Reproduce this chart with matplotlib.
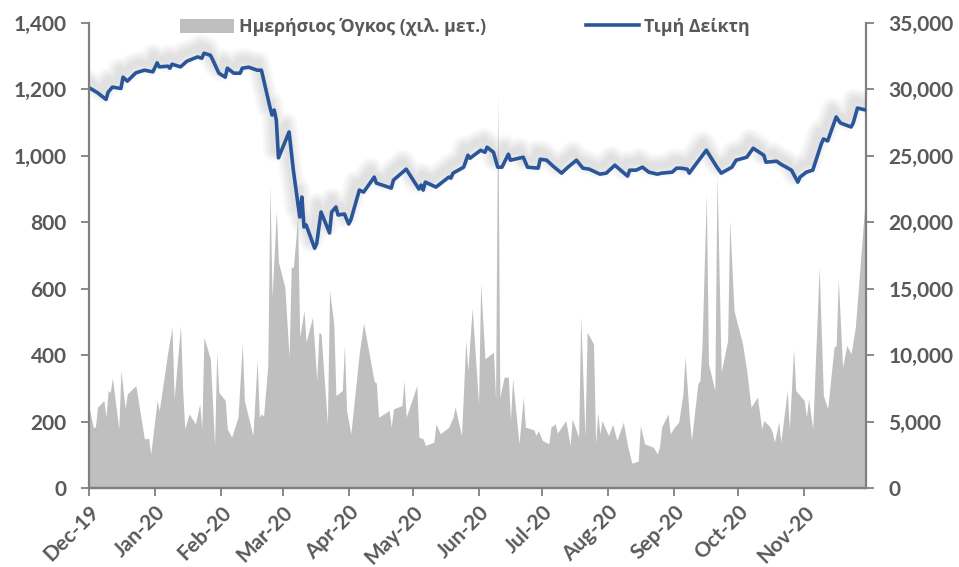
import pandas as pd
import matplotlib
matplotlib.use("Agg")
import matplotlib.pyplot as plt
import matplotlib.patheffects as pe
from matplotlib.ticker import FuncFormatter, MultipleLocator

# Τιμή Δείκτη (αριστερός άξονας)
idx_dates = [
    "2019-12-01", "2019-12-03", "2019-12-05", "2019-12-09", "2019-12-10", "2019-12-12",
    "2019-12-16", "2019-12-17", "2019-12-19", "2019-12-23", "2019-12-27", "2019-12-31",
    "2020-01-02", "2020-01-03", "2020-01-07", "2020-01-08", "2020-01-09", "2020-01-13",
    "2020-01-16", "2020-01-21", "2020-01-23", "2020-01-24", "2020-01-27", "2020-01-28",
    "2020-01-31", "2020-02-03", "2020-02-04", "2020-02-07", "2020-02-10", "2020-02-11",
    "2020-02-14", "2020-02-18", "2020-02-20", "2020-02-24", "2020-02-25", "2020-02-26",
    "2020-02-27", "2020-02-28", "2020-03-04", "2020-03-06", "2020-03-09", "2020-03-10",
    "2020-03-11", "2020-03-12", "2020-03-16", "2020-03-17", "2020-03-19", "2020-03-23",
    "2020-03-24", "2020-03-26", "2020-03-27", "2020-03-30", "2020-04-01", "2020-04-02",
    "2020-04-06", "2020-04-08", "2020-04-13", "2020-04-14", "2020-04-21", "2020-04-22",
    "2020-04-28", "2020-05-04", "2020-05-05", "2020-05-06", "2020-05-07", "2020-05-12",
    "2020-05-18", "2020-05-19", "2020-05-20", "2020-05-25", "2020-05-27", "2020-05-28",
    "2020-06-02", "2020-06-04", "2020-06-05", "2020-06-08", "2020-06-10", "2020-06-12",
    "2020-06-15", "2020-06-16", "2020-06-22", "2020-06-24", "2020-06-29", "2020-06-30",
    "2020-07-03", "2020-07-06", "2020-07-10", "2020-07-13", "2020-07-17", "2020-07-20",
    "2020-07-23", "2020-07-27", "2020-07-28", "2020-07-31", "2020-08-04", "2020-08-10",
    "2020-08-11", "2020-08-14", "2020-08-17", "2020-08-20", "2020-08-24", "2020-08-26",
    "2020-08-31", "2020-09-02", "2020-09-04", "2020-09-07", "2020-09-08", "2020-09-09",
    "2020-09-16", "2020-09-21", "2020-09-23", "2020-09-28", "2020-09-30", "2020-10-05",
    "2020-10-08", "2020-10-13", "2020-10-14", "2020-10-19", "2020-10-21", "2020-10-26",
    "2020-10-29", "2020-10-30", "2020-11-02", "2020-11-05", "2020-11-09", "2020-11-10",
    "2020-11-12", "2020-11-16", "2020-11-18", "2020-11-23", "2020-11-24", "2020-11-26",
    "2020-11-30",
]
idx_values = [
    1205, 1198, 1190, 1170, 1192, 1207,
    1203, 1237, 1225, 1250, 1258, 1253,
    1280, 1268, 1270, 1264, 1276, 1268,
    1285, 1298, 1294, 1309, 1303, 1291,
    1249, 1237, 1264, 1249, 1249, 1264,
    1267, 1258, 1258, 1147, 1123, 1138,
    1108, 994, 1072, 957, 816, 876,
    786, 792, 722, 737, 831, 768,
    831, 846, 822, 825, 795, 807,
    897, 891, 936, 918, 903, 927,
    960, 900, 912, 897, 921, 906,
    936, 933, 948, 966, 1002, 993,
    1017, 1011, 1026, 1011, 966, 966,
    1005, 987, 996, 966, 963, 990,
    987, 969, 948, 966, 987, 963,
    960, 948, 945, 948, 972, 939,
    957, 957, 966, 951, 945, 948,
    951, 963, 963, 960, 948, 957,
    1017, 966, 948, 966, 987, 996,
    1023, 1002, 981, 984, 975, 957,
    921, 936, 951, 957, 1036, 1051,
    1045, 1117, 1099, 1087, 1099, 1144,
    1138,
]

# Ημερήσιος Όγκος (δεξιός άξονας)
vol_dates = [
    "2019-12-01", "2019-12-03", "2019-12-04", "2019-12-05", "2019-12-08", "2019-12-09",
    "2019-12-10", "2019-12-11", "2019-12-12", "2019-12-15", "2019-12-16", "2019-12-18",
    "2019-12-19", "2019-12-23", "2019-12-27", "2019-12-29", "2019-12-30", "2020-01-02",
    "2020-01-03", "2020-01-07", "2020-01-09", "2020-01-10", "2020-01-13", "2020-01-14",
    "2020-01-15", "2020-01-17", "2020-01-20", "2020-01-22", "2020-01-23", "2020-01-24",
    "2020-01-27", "2020-01-29", "2020-01-30", "2020-01-31", "2020-02-03", "2020-02-04",
    "2020-02-06", "2020-02-09", "2020-02-11", "2020-02-12", "2020-02-16", "2020-02-18",
    "2020-02-19", "2020-02-20", "2020-02-21", "2020-02-23", "2020-02-24", "2020-02-25",
    "2020-02-27", "2020-02-28", "2020-03-02", "2020-03-04", "2020-03-05", "2020-03-06",
    "2020-03-08", "2020-03-09", "2020-03-11", "2020-03-12", "2020-03-15", "2020-03-17",
    "2020-03-18", "2020-03-19", "2020-03-22", "2020-03-23", "2020-03-25", "2020-03-26",
    "2020-03-29", "2020-03-30", "2020-03-31", "2020-04-02", "2020-04-06", "2020-04-08",
    "2020-04-13", "2020-04-14", "2020-04-15", "2020-04-20", "2020-04-21", "2020-04-22",
    "2020-04-26", "2020-04-27", "2020-04-28", "2020-05-03", "2020-05-04", "2020-05-06",
    "2020-05-07", "2020-05-11", "2020-05-12", "2020-05-14", "2020-05-18", "2020-05-20",
    "2020-05-21", "2020-05-24", "2020-05-26", "2020-05-27", "2020-05-29", "2020-06-01",
    "2020-06-02", "2020-06-04", "2020-06-08", "2020-06-09", "2020-06-10", "2020-06-11",
    "2020-06-13", "2020-06-15", "2020-06-16", "2020-06-17", "2020-06-20", "2020-06-22",
    "2020-06-23", "2020-06-27", "2020-06-28", "2020-06-29", "2020-07-01", "2020-07-04",
    "2020-07-05", "2020-07-07", "2020-07-08", "2020-07-12", "2020-07-14", "2020-07-15",
    "2020-07-18", "2020-07-19", "2020-07-21", "2020-07-22", "2020-07-25", "2020-07-26",
    "2020-07-27", "2020-07-28", "2020-07-29", "2020-08-01", "2020-08-03", "2020-08-05",
    "2020-08-08", "2020-08-10", "2020-08-12", "2020-08-15", "2020-08-16", "2020-08-18",
    "2020-08-20", "2020-08-22", "2020-08-24", "2020-08-25", "2020-08-26", "2020-08-29",
    "2020-08-30", "2020-09-01", "2020-09-03", "2020-09-05", "2020-09-06", "2020-09-08",
    "2020-09-09", "2020-09-12", "2020-09-13", "2020-09-14", "2020-09-16", "2020-09-17",
    "2020-09-20", "2020-09-21", "2020-09-23", "2020-09-26", "2020-09-27", "2020-09-29",
    "2020-10-03", "2020-10-05", "2020-10-07", "2020-10-10", "2020-10-12", "2020-10-13",
    "2020-10-16", "2020-10-17", "2020-10-18", "2020-10-20", "2020-10-21", "2020-10-24",
    "2020-10-25", "2020-10-27", "2020-10-28", "2020-11-01", "2020-11-02", "2020-11-03",
    "2020-11-05", "2020-11-08", "2020-11-10", "2020-11-12", "2020-11-15", "2020-11-16",
    "2020-11-17", "2020-11-19", "2020-11-21", "2020-11-23", "2020-11-25", "2020-11-29",
    "2020-11-30",
]
vol_values = [
    6100, 4580, 4580, 6080, 6600, 5330,
    7340, 7200, 8300, 4450, 8840, 5960,
    7090, 7710, 3700, 3750, 2570, 6590,
    5830, 10220, 12100, 6710, 12230, 7340,
    4450, 5580, 4830, 6340, 4450, 11350,
    9720, 3200, 10220, 7210, 6590, 4450,
    3820, 5330, 10850, 6590, 3950, 9600,
    5330, 5580, 5400, 9220, 22770, 14360,
    20880, 17000, 15110, 9850, 16620, 16620,
    20260, 11350, 13360, 10980, 12860, 8090,
    11730, 11600, 4830, 14870, 12360, 6960,
    7340, 10730, 5830, 4080, 10220, 12420,
    8000, 7900, 5330, 5830, 4580, 5960,
    6210, 8090, 5330, 7710, 3820, 3700,
    3200, 3450, 4830, 4080, 4580, 5330,
    6080, 3950, 11100, 8840, 13550, 6340,
    15370, 9720, 10220, 6710, 29600, 6840,
    8340, 8340, 5080, 8220, 3330, 6840,
    4580, 4380, 3950, 4330, 3580, 3330,
    4580, 4830, 4130, 5080, 3200, 5210,
    3820, 12980, 3880, 11730, 10850, 3330,
    5710, 4080, 5080, 3950, 4780, 3580,
    4950, 3200, 1870, 2020, 4700, 3330,
    3200, 3070, 2570, 3070, 4580, 5580,
    4080, 4580, 4950, 7090, 9900, 5330,
    3580, 7840, 8090, 10850, 22140, 9350,
    7340, 23650, 8720, 11100, 20130, 13360,
    10850, 8800, 6080, 6840, 4450, 5080,
    4580, 4200, 3450, 4950, 3450, 7340,
    4450, 10480, 7340, 6590, 5330, 6710,
    4450, 16620, 6960, 5960, 10600, 10730,
    15750, 9090, 10730, 10100, 12110, 20380,
    22400,
]

month_starts = pd.date_range("2019-12-01", "2020-11-01", freq="MS")

gray_txt = "#595959"
axis_col = "#808080"
blue = "#2A5699"
fill_col = "#BFBFBF"

plt.rcParams["font.family"] = ["Lato", "Open Sans", "DejaVu Sans"]
plt.rcParams["font.weight"] = "bold"

fig = plt.figure(figsize=(9.59, 5.67), dpi=100)
ax = fig.add_axes([0.0928, 0.1393, 0.8102, 0.8201])
ax2 = ax.twinx()

vd = pd.to_datetime(vol_dates)
ax2.fill_between(vd, 0, vol_values, color=fill_col, linewidth=0,
                 label="Ημερήσιος Όγκος (χιλ. μετ.)")

# θολή σκιά πάνω-αριστερά από τη γραμμή
shadow = [pe.SimpleLineShadow(offset=(-2.5, 5.5), shadow_color="black",
                              alpha=0.025, linewidth=w) for w in (17, 14, 11, 8, 5)]
ax.plot(pd.to_datetime(idx_dates), idx_values, color=blue, lw=2.6,
        solid_joinstyle="round", path_effects=shadow + [pe.Normal()])
# χωρίς σκιά για το υπόμνημα
line_handle, = ax.plot([], [], color=blue, lw=2.6)

ax.set_zorder(ax2.get_zorder() + 1)
ax.patch.set_visible(False)

ax.set_xlim(pd.Timestamp("2019-12-01"), pd.Timestamp("2020-11-30"))
ax.set_ylim(0, 1400)
ax2.set_ylim(0, 35000)
ax.yaxis.set_major_locator(MultipleLocator(200))
ax2.yaxis.set_major_locator(MultipleLocator(5000))
ax.yaxis.set_major_formatter(FuncFormatter(lambda v, p: f"{v:,.0f}"))
ax2.yaxis.set_major_formatter(FuncFormatter(lambda v, p: f"{v:,.0f}"))

ax.set_xticks(month_starts)
ax.set_xticklabels([d.strftime("%b-%y") for d in month_starts], rotation=45,
                   ha="right", rotation_mode="anchor")

for a in (ax, ax2):
    for s in a.spines.values():
        s.set_color(axis_col)
        s.set_linewidth(1.6)
    a.spines["top"].set_visible(False)
    a.tick_params(colors=axis_col, labelcolor=gray_txt, labelsize=15,
                  length=6, width=1.3)
ax.spines["right"].set_visible(False)
ax2.spines["left"].set_visible(False)
ax.tick_params(axis="y", pad=10)
ax2.tick_params(axis="y", pad=10)
ax.tick_params(axis="x", pad=4)

h1, l1 = ax2.get_legend_handles_labels()
leg = ax.legend(h1 + [line_handle], l1 + ["Τιμή Δείκτη"], loc="upper center",
                bbox_to_anchor=(0.484, 1.045), ncol=2, frameon=False,
                handlelength=3.0, handleheight=0.9, columnspacing=5.6,
                handletextpad=0.3,
                prop={"family": ["Open Sans", "DejaVu Sans"], "weight": "bold", "size": 12.8})
for t in leg.get_texts():
    t.set_color(gray_txt)

fig.savefig("out.png", dpi=100)
